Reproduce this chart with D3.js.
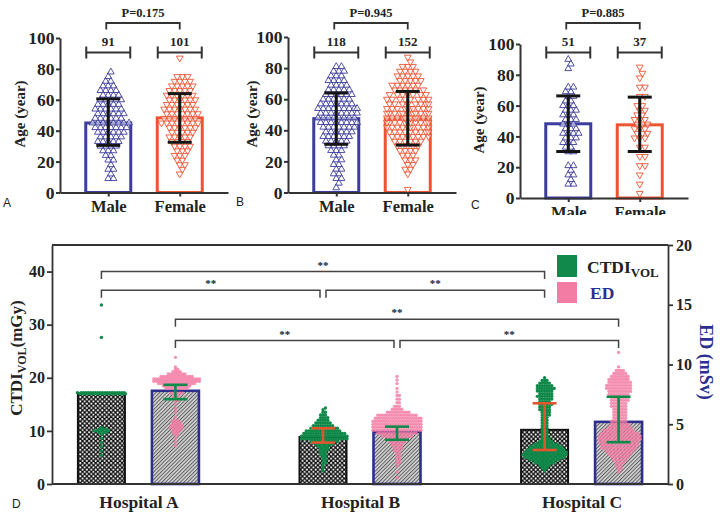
<!DOCTYPE html>
<html><head><meta charset="utf-8">
<script src="https://cdn.jsdelivr.net/npm/d3@7"></script>
<style>
body{margin:0;background:#fff;}
svg{display:block;font-family:"Liberation Serif","Times New Roman",serif;}
</style></head><body>
<svg id="chart" width="720" height="515"></svg>
<script>
// ================= DATA =================
// --- Panels A, B, C: age by sex ---
const sexes = ["Male", "Female"];
const panelLetters = ["A", "B", "C"];
const ageTicks = [0, 20, 40, 60, 80, 100];
const pLabels = ["P=0.175", "P=0.945", "P=0.885"];
const groupCounts = [[91, 101], [118, 152], [51, 37]];
const ageMeans = [[45, 48.3], [47.5, 47.5], [48.2, 47.5]];
const ageLow  = [[30.5, 32.5], [31, 30.5], [30.2, 30.2]];
const ageHigh = [[60.6, 64], [64, 65], [66.3, 65.5]];
// individual ages as [age, number of patients]
const agesA_male = [[9,2],[12,1],[15,2],[18,1],[21,2],[24,2],[27,3],[30,4],[33,5],[36,5],[39,6],[42,7],[45,8],[48,6],[51,6],[54,6],[57,5],[60,5],[63,4],[66,4],[69,3],[72,2],[75,1],[78,1]];
const agesA_female = [[12,1],[15,1],[18,2],[21,2],[24,3],[27,3],[30,4],[33,4],[36,5],[39,5],[42,6],[45,8],[48,7],[51,7],[54,7],[57,6],[60,6],[63,6],[66,5],[69,5],[72,4],[75,3],[87,1]];
const agesB_male = [[3,1],[6,1],[9,2],[12,2],[15,2],[18,2],[21,2],[24,2],[27,3],[30,4],[33,5],[36,6],[39,6],[42,7],[45,8],[48,8],[51,8],[54,9],[57,7],[60,6],[63,6],[66,5],[69,4],[72,4],[75,3],[78,3],[81,2]];
const agesB_female = [[2,1],[12,1],[15,2],[18,2],[21,3],[24,3],[27,4],[30,5],[33,6],[36,8],[39,9],[42,10],[45,11],[48,12],[51,11],[54,10],[57,8],[60,8],[63,7],[66,6],[69,6],[72,5],[75,5],[78,4],[81,3],[84,1],[87,1]];
const agesC_male = [[9,2],[12,1],[15,2],[18,1],[21,2],[30,2],[33,2],[36,3],[39,3],[42,4],[45,3],[48,3],[51,3],[54,3],[57,3],[60,3],[63,2],[66,2],[69,2],[72,2],[84,1],[87,1],[90,1]];
const agesC_female = [[3,1],[9,1],[15,1],[21,2],[27,2],[33,2],[39,3],[42,3],[45,3],[48,3],[51,3],[54,2],[57,2],[60,2],[66,2],[72,2],[78,1],[81,1],[85,1]];

// --- Panel D: dose by hospital ---
const hospitals = ["Hospital A", "Hospital B", "Hospital C"];
const ctdiTicks = [0, 10, 20, 30, 40];
const edTicks = [0, 5, 10, 15, 20];
const ctdiMean = [17.0, 8.85, 10.2];
const ctdiLow  = [null, 7.8, 6.4];
const ctdiHigh = [null, 10.5, 15.2];
const edMean = [7.8, 4.35, 5.2];
const edLow  = [7.1, 3.7, 3.5];
const edHigh = [8.3, 4.8, 7.3];
// individual doses as [value, number of patients]
const ctdiA = [[33.7,1],[27.6,1],[17.2,20],[17.0,20],[10.6,1],[10.3,3],[10.0,4],[9.7,3],[9.4,1],[8.6,1],[7.8,1],[7.0,1],[6.2,1],[5.4,1]];
const ctdiB = [[14.3,1],[14.0,1],[13.5,2],[13.0,3],[12.5,4],[12.0,5],[11.5,7],[11.0,9],[10.5,12],[10.0,15],[9.5,18],[9.0,20],[8.5,20],[8.0,12],[7.5,8],[7.0,5],[6.5,4],[6.0,3],[5.5,3],[5.0,2],[4.5,2],[4.0,2],[3.5,1],[3.0,1],[2.5,1]];
const ctdiC = [[20.0,1],[19.5,3],[19.0,5],[18.5,7],[18.0,8],[17.5,7],[17.0,6],[16.5,7],[16.0,6],[15.5,5],[15.0,6],[14.5,5],[14.0,5],[13.5,4],[13.0,4],[12.5,3],[12.0,3],[11.5,3],[11.0,3],[10.5,3],[10.0,3],[9.5,3],[9.0,3],[8.5,4],[8.0,6],[7.5,10],[7.0,14],[6.5,16],[6.0,18],[5.5,19],[5.0,17],[4.5,13],[4.0,9],[3.5,5],[3.0,3],[2.5,1]];
const edA = [[10.6,1],[9.8,1],[9.6,2],[9.4,4],[9.2,8],[9.0,14],[8.8,20],[8.6,20],[8.4,16],[8.2,12],[8.0,10],[7.6,6],[7.3,3],[7.0,2],[6.7,1],[6.3,1],[6.0,1],[5.6,1],[5.3,3],[5.1,4],[4.9,6],[4.7,6],[4.5,4],[4.3,3],[4.1,2],[3.8,1],[3.5,1],[3.2,1]];
const edB = [[9.0,1],[8.7,1],[8.4,1],[8.0,1],[7.7,1],[7.4,2],[7.1,2],[6.8,2],[6.5,3],[6.25,5],[6.0,10],[5.75,17],[5.5,20],[5.25,21],[5.0,21],[4.75,21],[4.5,21],[4.25,17],[4.0,13],[3.75,9],[3.5,7],[3.25,5],[3.0,4],[2.75,3],[2.5,2],[2.25,2],[2.0,2],[1.75,2],[1.5,1],[1.0,1],[0.5,1]];
const edC = [[11.0,1],[9.8,1],[9.5,4],[9.25,6],[9.0,8],[8.75,9],[8.5,10],[8.25,11],[8.0,11],[7.75,10],[7.5,9],[7.25,8],[7.0,8],[6.75,7],[6.5,7],[6.25,6],[6.0,6],[5.75,6],[5.5,6],[5.25,7],[5.0,8],[4.75,10],[4.5,13],[4.25,16],[4.0,18],[3.75,18],[3.5,17],[3.25,16],[3.0,15],[2.75,12],[2.5,10],[2.25,8],[2.0,6],[1.75,4],[1.5,3],[1.25,2],[1.0,1]];
const sigLabel = "**";
const comparisons = [
  {a:0, b:2, series:"ctdi", level:40},
  {a:0, b:1, series:"ctdi", level:36.5},
  {a:1, b:2, series:"ctdi", level:36.5},
  {a:0, b:2, series:"ed", level:31},
  {a:0, b:1, series:"ed", level:27},
  {a:1, b:2, series:"ed", level:27}
];

// ================= HELPERS =================
const expand = pairs => pairs.flatMap(([v, n]) => Array(n).fill(v));
function swarmX(ys, diam, maxHalf) {
  const idx = ys.map((y, i) => i).sort((p, q) => ys[q] - ys[p]);
  const step = diam / 2, nC = Math.floor(maxHalf / step);
  const cands = [0];
  for (let k = 1; k <= nC; k++) cands.push(k * step, -k * step);
  const placed = [], xs = new Array(ys.length);
  for (const i of idx) {
    const y = ys[i];
    const near = placed.filter(p => Math.abs(p[1] - y) < diam);
    let best = 0, bestD = -1;
    for (const c of cands) {
      let md = Infinity;
      for (const p of near) { const d = Math.hypot(p[0] - c, p[1] - y); if (d < md) md = d; }
      if (md >= diam * 0.95) { best = c; break; }
      if (md > bestD) { bestD = md; best = c; }
    }
    xs[i] = best; placed.push([best, y]);
  }
  return xs;
}
function styleText(sel, size, color) {
  sel.style("font-family", "'Liberation Serif','Times New Roman',serif")
     .style("font-weight", "bold").style("font-size", size + "px").style("fill", color || "#222");
}

const svg = d3.select("#chart");
const defs = svg.append("defs");
const pd = defs.append("pattern").attr("id", "dots").attr("patternUnits", "userSpaceOnUse").attr("width", 4.4).attr("height", 4.4);
pd.append("rect").attr("width", 4.4).attr("height", 4.4).attr("fill", "#111");
pd.append("circle").attr("cx", 1.1).attr("cy", 1.1).attr("r", 1).attr("fill", "#fff");
pd.append("circle").attr("cx", 3.3).attr("cy", 3.3).attr("r", 1).attr("fill", "#fff");
const ph = defs.append("pattern").attr("id", "hatch").attr("patternUnits", "userSpaceOnUse").attr("width", 2.6).attr("height", 2.6).attr("patternTransform", "rotate(45)");
ph.append("rect").attr("width", 2.6).attr("height", 2.6).attr("fill", "#d2d2d2");
ph.append("line").attr("x1", 0.5).attr("y1", 0).attr("x2", 0.5).attr("y2", 2.6).attr("stroke", "#555").attr("stroke-width", 0.9);
const clipC = defs.append("clipPath").attr("id", "clipTop");
clipC.append("rect").attr("x", 0).attr("y", 0).attr("width", 720).attr("height", 215);

// ================= PANELS A-C =================
const ageSets = [[agesA_male, agesA_female], [agesB_male, agesB_female], [agesC_male, agesC_female]];
const sexColor = ["#3d3d9e", "#ee5332"];
const panelBox = [
  {x0: 60, yB: 192.5, yT: 38, titleX: 25, titleY: 114, letterX: 3, letterY: 207},
  {x0: 288, yB: 192.5, yT: 37, titleX: 257, titleY: 114, letterX: 236, letterY: 206},
  {x0: 520, yB: 198, yT: 44, titleX: 484, titleY: 120, letterX: 471, letterY: 209}
];
const triUp = d3.symbol(d3.symbolTriangle, 20)();

panelLetters.forEach((letter, pi) => {
  const L = panelBox[pi];
  const g = svg.append("g").attr("clip-path", "url(#clipTop)");
  const x = d3.scalePoint().domain(sexes).range([L.x0, L.x0 + 168]).padding(0.675);
  const y = d3.scaleLinear().domain([0, 100]).range([L.yB, L.yT]);

  sexes.forEach((s, si) => {
    const m = ageMeans[pi][si];
    g.append("rect").attr("x", x(s) - 22.5).attr("width", 45)
      .attr("y", y(m)).attr("height", L.yB - y(m))
      .attr("fill", "#fff").attr("stroke", sexColor[si]).attr("stroke-width", 3);
  });
  sexes.forEach((s, si) => {
    const vals = expand(ageSets[pi][si]);
    const ys = vals.map(v => y(v));
    const xs = swarmX(ys, 5.2, 23);
    g.append("g").selectAll("path").data(vals).join("path")
      .attr("d", triUp)
      .attr("transform", (d, i) => `translate(${x(s) + xs[i]},${ys[i]})` + (si === 1 ? " rotate(180)" : ""))
      .attr("fill", "#fff").attr("fill-opacity", 0.55)
      .attr("stroke", sexColor[si]).attr("stroke-width", 0.9);
  });
  sexes.forEach((s, si) => {
    const eg = g.append("g").attr("stroke", "#151515").attr("stroke-width", 3);
    const cx = x(s), lo = y(ageLow[pi][si]), hi = y(ageHigh[pi][si]);
    eg.append("line").attr("x1", cx).attr("x2", cx).attr("y1", lo).attr("y2", hi);
    eg.append("line").attr("x1", cx - 12).attr("x2", cx + 12).attr("y1", lo).attr("y2", lo);
    eg.append("line").attr("x1", cx - 12).attr("x2", cx + 12).attr("y1", hi).attr("y2", hi);
  });
  const ya = g.append("g").attr("transform", `translate(${L.x0},0)`)
    .call(d3.axisLeft(y).tickValues(ageTicks).tickSize(4).tickSizeOuter(0).tickPadding(1.5));
  const xa = g.append("g").attr("transform", `translate(0,${L.yB})`)
    .call(d3.axisBottom(x).tickSize(4).tickSizeOuter(0).tickPadding(4));
  [ya, xa].forEach(a => {
    a.select(".domain").attr("stroke", "#333").attr("stroke-width", 2);
    a.selectAll(".tick line").attr("stroke", "#333").attr("stroke-width", 2);
  });
  styleText(ya.selectAll("text"), 17.5);
  styleText(xa.selectAll("text"), 16.5);

  styleText(svg.append("text").attr("transform", `translate(${L.titleX},${L.titleY}) rotate(-90)`)
    .attr("text-anchor", "middle").text("Age (year)"), 15);
  svg.append("text").attr("x", L.letterX).attr("y", L.letterY)
    .style("font-family", "'Liberation Sans',Arial,sans-serif").style("font-size", "12px").style("fill", "#222").text(letter);

  sexes.forEach((s, si) => {
    const cx = x(s), by = 52.5;
    const bg = svg.append("g").attr("stroke", "#333").attr("stroke-width", 2);
    bg.append("line").attr("x1", cx - 22).attr("x2", cx + 22).attr("y1", by).attr("y2", by);
    bg.append("line").attr("x1", cx - 22).attr("x2", cx - 22).attr("y1", by - 6).attr("y2", by + 6);
    bg.append("line").attr("x1", cx + 22).attr("x2", cx + 22).attr("y1", by - 6).attr("y2", by + 6);
    styleText(svg.append("text").attr("x", cx).attr("y", 45.5).attr("text-anchor", "middle").text(groupCounts[pi][si]), 13);
  });
  const x1 = x(sexes[0]) - 2, x2 = x(sexes[1]);
  svg.append("path").attr("d", `M${x1},29.5V23H${x2}V29.5`).attr("fill", "none").attr("stroke", "#333").attr("stroke-width", 1.8);
  styleText(svg.append("text").attr("x", (x1 + x2) / 2).attr("y", 16.5).attr("text-anchor", "middle").text(pLabels[pi]), 12.5);
});

// ================= PANEL D =================
const yL = d3.scaleLinear().domain([0, 45]).range([484, 245]);
const yR = d3.scaleLinear().domain([0, 20]).range([484, 245]);
const xH = d3.scalePoint().domain(hospitals).range([52, 668]).padding(0.39);
const green = "#11894a", pink = "#f27ca4", navy = "#2d2f8e";
const series = [
  {key: "ctdi", off: -37, y: yL, mean: ctdiMean, low: ctdiLow, high: ctdiHigh, pts: [ctdiA, ctdiB, ctdiC],
   fill: "url(#dots)", stroke: "#111", sw: 2, pc: green, po: 1, ec: "#e2552e"},
  {key: "ed", off: 37, y: yR, mean: edMean, low: edLow, high: edHigh, pts: [edA, edB, edC],
   fill: "url(#hatch)", stroke: navy, sw: 2.6, pc: pink, po: 0.8, ec: green}
];
const gD = svg.append("g");
gD.append("line").attr("x1", 52).attr("x2", 668).attr("y1", 245).attr("y2", 245).attr("stroke", "#333").attr("stroke-width", 1.8);
series.forEach(S => {
  hospitals.forEach((h, hi) => {
    const cx = xH(h) + S.off, top = S.y(S.mean[hi]);
    gD.append("rect").attr("x", cx - 23.5).attr("width", 47).attr("y", top).attr("height", 484 - top)
      .attr("fill", S.fill).attr("stroke", S.stroke).attr("stroke-width", S.sw);
  });
});
series.forEach(S => {
  hospitals.forEach((h, hi) => {
    const vals = expand(S.pts[hi]);
    const ys = vals.map(v => S.y(v));
    const xs = swarmX(ys, 2.4, 25);
    gD.append("g").selectAll("circle").data(vals).join("circle")
      .attr("cx", (d, i) => xH(h) + S.off + xs[i]).attr("cy", (d, i) => ys[i])
      .attr("r", 1.7).attr("fill", S.pc).attr("fill-opacity", S.po);
  });
});
series.forEach(S => {
  hospitals.forEach((h, hi) => {
    if (S.low[hi] == null) return;
    const cx = xH(h) + S.off, lo = S.y(S.low[hi]), up = S.y(S.high[hi]);
    const eg = gD.append("g").attr("stroke", S.ec).attr("stroke-width", 2.6);
    eg.append("line").attr("x1", cx).attr("x2", cx).attr("y1", lo).attr("y2", up);
    eg.append("line").attr("x1", cx - 12).attr("x2", cx + 12).attr("y1", lo).attr("y2", lo);
    eg.append("line").attr("x1", cx - 12).attr("x2", cx + 12).attr("y1", up).attr("y2", up);
  });
});
comparisons.forEach(c => {
  const S = series.find(s => s.key === c.series);
  let xa = xH(hospitals[c.a]) + S.off, xb = xH(hospitals[c.b]) + S.off;
  if (c.a === 1) xa += 3;
  if (c.b === 1) xb -= 3;
  const yy = yL(c.level);
  gD.append("path").attr("d", `M${xa},${yy + 7.5}V${yy}H${xb}V${yy + 7.5}`)
    .attr("fill", "none").attr("stroke", "#444").attr("stroke-width", 1.5);
  styleText(gD.append("text").attr("x", (xa + xb) / 2).attr("y", yy - 3).attr("text-anchor", "middle").text(sigLabel), 11, "#222");
});
const axL = gD.append("g").attr("transform", "translate(52,0)")
  .call(d3.axisLeft(yL).tickValues(ctdiTicks).tickSize(5).tickSizeOuter(0).tickPadding(2));
const axR = gD.append("g").attr("transform", "translate(668,0)")
  .call(d3.axisRight(yR).tickValues(edTicks).tickSize(5).tickSizeOuter(0).tickPadding(3));
const axB = gD.append("g").attr("transform", "translate(0,484)")
  .call(d3.axisBottom(xH).tickSize(0).tickSizeOuter(0).tickPadding(12));
[axL, axR, axB].forEach(a => {
  a.select(".domain").attr("stroke", "#333").attr("stroke-width", 1.8);
  a.selectAll(".tick line").attr("stroke", "#333").attr("stroke-width", 1.8);
  styleText(a.selectAll("text"), 16);
});
axB.select(".domain").attr("d", "M52,0H668");
styleText(axB.selectAll("text"), 17.5);
const tl = gD.append("text").attr("transform", "translate(22,358) rotate(-90)").attr("text-anchor", "middle");
styleText(tl, 17);
tl.append("tspan").text("CTDI");
tl.append("tspan").style("font-size", "12px").attr("dy", 4).text("VOL");
tl.append("tspan").attr("dy", -4).text("(mGy)");
styleText(gD.append("text").attr("transform", "translate(700,362) rotate(90)").attr("text-anchor", "middle").text("ED (mSv)"), 18, navy);
gD.append("rect").attr("x", 557).attr("y", 255).attr("width", 20).attr("height", 22).attr("fill", green);
gD.append("rect").attr("x", 557).attr("y", 282).attr("width", 20).attr("height", 21).attr("fill", pink);
const lt = gD.append("text").attr("x", 587).attr("y", 273);
styleText(lt, 17.5);
lt.append("tspan").text("CTDI");
lt.append("tspan").style("font-size", "13px").attr("dy", 4).text("VOL");
styleText(gD.append("text").attr("x", 590).attr("y", 299).text("ED"), 17.5, navy);
gD.append("text").attr("x", 12).attr("y", 508)
  .style("font-family", "'Liberation Sans',Arial,sans-serif").style("font-size", "12px").style("fill", "#222").text("D");
</script>
</body></html>
